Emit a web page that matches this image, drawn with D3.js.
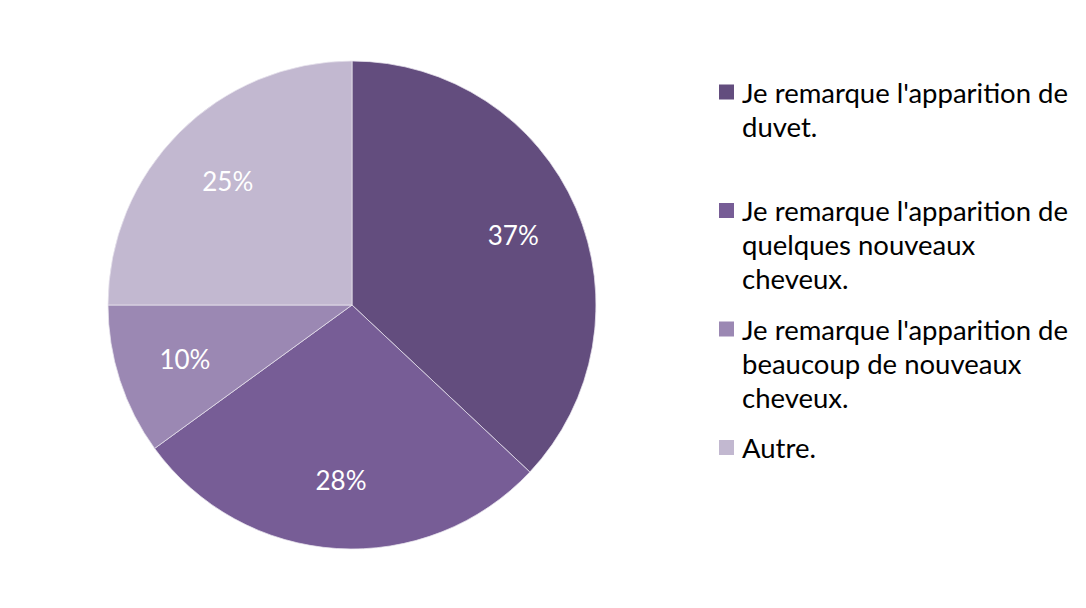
<!DOCTYPE html>
<html>
<head>
<meta charset="utf-8">
<script src="https://cdn.jsdelivr.net/npm/d3@7"></script>
<style>
  body { margin: 0; background: #fff; }
  svg { display: block; }
  text { font-family: Lato, "Liberation Sans", sans-serif; }
</style>
</head>
<body>
<script>
// chart data
var categories = [
  "Je remarque l'apparition de\nduvet.",
  "Je remarque l'apparition de\nquelques nouveaux\ncheveux.",
  "Je remarque l'apparition de\nbeaucoup de nouveaux\ncheveux.",
  "Autre."
];
var values = [37, 28, 10, 25];
var colors = ["#634d7e", "#775d96", "#9b88b3", "#c2b8d0"];

var width = 1086, height = 608;
var cx = 352, cy = 305, radius = 244;

var svg = d3.select("body").append("svg")
    .attr("width", width)
    .attr("height", height);

var pie = d3.pie().sort(null).value(function(d){ return d; });
var arcs = pie(values);

var arc = d3.arc().innerRadius(0).outerRadius(radius);
var labelArc = d3.arc().innerRadius(radius * 0.72).outerRadius(radius * 0.72);

var g = svg.append("g")
    .attr("transform", "translate(" + cx + "," + cy + ")");

g.selectAll("path")
    .data(arcs)
    .enter().append("path")
    .attr("d", arc)
    .attr("fill", function(d, i){ return colors[i]; })
    .attr("stroke", "#e8e4ee")
    .attr("stroke-width", 0.75);

g.selectAll("text.pct")
    .data(arcs)
    .enter().append("text")
    .attr("class", "pct")
    .attr("transform", function(d){ return "translate(" + labelArc.centroid(d) + ")"; })
    .attr("text-anchor", "middle")
    .attr("dominant-baseline", "central")
    .attr("fill", "#fff")
    .attr("font-size", 26)
    .text(function(d){ return d.value + "%"; });

// legend
var legendX = 719, legendY = 92, itemGap = 118.5, lineGap = 34, box = 15;

var legend = svg.append("g");
var items = legend.selectAll("g")
    .data(categories)
    .enter().append("g")
    .attr("transform", function(d, i){ return "translate(" + legendX + "," + (legendY + i * itemGap) + ")"; });

items.append("rect")
    .attr("x", 0)
    .attr("y", -box / 2)
    .attr("width", box)
    .attr("height", box)
    .attr("fill", function(d, i){ return colors[i]; });

items.append("text")
    .attr("font-size", 27.5)
    .attr("fill", "#000")
    .selectAll("tspan")
    .data(function(d){ return d.split("\n"); })
    .enter().append("tspan")
    .attr("x", 23)
    .attr("y", function(d, i){ return i * lineGap; })
    .attr("dominant-baseline", "central")
    .text(function(d){ return d; });
</script>
</body>
</html>
